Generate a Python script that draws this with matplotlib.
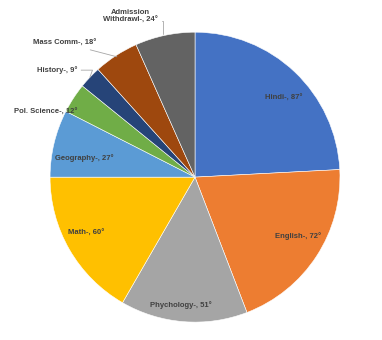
import matplotlib.pyplot as plt
import numpy as np

subjects = ["Hindi", "English", "Phychology", "Math", "Geography",
            "Pol. Science", "History", "Mass Comm", "Admission\nWithdrawl"]
degrees = [87, 72, 51, 60, 27, 12, 9, 18, 24]
colors = ["#4472C4", "#ED7D31", "#A5A5A5", "#FFC000", "#5B9BD5",
          "#70AD47", "#264478", "#9E480E", "#636363"]

# inside labels: radius (fraction of pie radius) and angle nudge in degrees
label_r = [0.82, 0.82, 0.888, 0.845, 0.777]
label_da = [-4.9, 3.2, -1.7, -2.8, 3.8]

fig = plt.figure(figsize=(3.82, 3.4), dpi=100)
ax = fig.add_axes([0.131, 0.0525, 0.759, 0.853])

wedges, _ = ax.pie(degrees, colors=colors, startangle=90, counterclock=False,
                   wedgeprops=dict(edgecolor="white", linewidth=0.4))
ax.set_xlim(-1, 1)
ax.set_ylim(-1, 1)

txt = dict(fontsize=5.5, fontweight="bold", color="#404040", family="Liberation Sans")
line = dict(arrowstyle="-", color="#A6A6A6", lw=0.6, shrinkA=1, shrinkB=0)

for i, (w, name, d) in enumerate(zip(wedges, subjects, degrees)):
    mid = np.deg2rad((w.theta1 + w.theta2) / 2)
    ex, ey = np.cos(mid), np.sin(mid)
    label = f"{name}-, {d}°"
    if i < 5:
        a = mid + np.deg2rad(label_da[i])
        r = label_r[i]
        ax.text(r * np.cos(a), r * np.sin(a), label, ha="center", va="center", **txt)
    elif i == 5:
        ax.text(-0.814, 0.448, label, ha="right", va="center", **txt)
    elif i == 6:
        ax.annotate(label, xy=(ex, ey), xytext=(-0.814, 0.738), ha="right", va="center",
                    arrowprops=dict(connectionstyle="angle,angleA=0,angleB=70,rad=0", **line),
                    **txt)
    elif i == 7:
        ax.annotate(label, xy=(ex * 0.99, ey * 0.99), xytext=(-0.68, 0.924), ha="right", va="center",
                    arrowprops=dict(**line), **txt)
    else:
        ax.annotate(label, xy=(-0.22, 0.99), xytext=(-0.448, 1.106), ha="center", va="center",
                    multialignment="center", linespacing=1.2,
                    arrowprops=dict(connectionstyle="angle,angleA=0,angleB=90,rad=0",
                                    relpos=(1.0, 0.25), **line),
                    **txt)

fig.savefig("out.png", dpi=100)
